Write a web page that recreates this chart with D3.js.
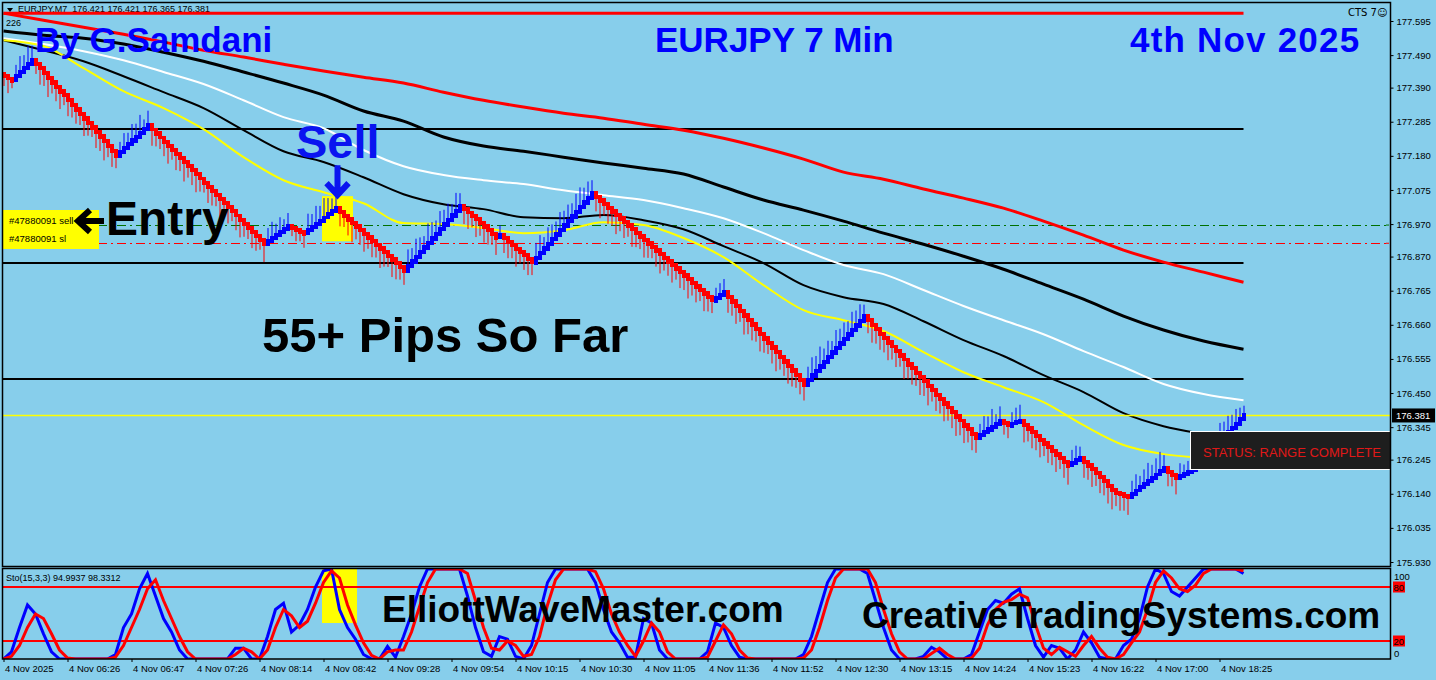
<!DOCTYPE html>
<html>
<head>
<meta charset="utf-8">
<script src="https://cdn.jsdelivr.net/npm/d3@7"></script>
<style>
  html, body { margin: 0; padding: 0; background: #87ceeb; }
  svg { display: block; }
  text { font-family: "Liberation Sans", Arial, sans-serif; }
</style>
</head>
<body>
<svg id="chart"></svg>
<script>
// ---- chart values ----
const priceTicks = [177.595, 177.490, 177.390, 177.285, 177.180, 177.075, 176.970, 176.870, 176.765,
  176.660, 176.555, 176.450, 176.345, 176.245, 176.140, 176.035, 175.930];

const timeTicks = [0, 16, 32, 48, 64, 80, 96, 112, 128, 144, 160, 176, 192, 208, 224, 240, 256, 272, 288, 304];
const timeLabels = ["4 Nov 2025", "4 Nov 06:26", "4 Nov 06:47", "4 Nov 07:26", "4 Nov 08:14",
  "4 Nov 08:42", "4 Nov 09:28", "4 Nov 09:54", "4 Nov 10:15", "4 Nov 10:30", "4 Nov 11:05",
  "4 Nov 11:36", "4 Nov 11:52", "4 Nov 12:30", "4 Nov 13:15", "4 Nov 14:24", "4 Nov 15:23",
  "4 Nov 16:22", "4 Nov 17:00", "4 Nov 18:25"];

const firstOpen = 177.432;
const closes = [
  177.425,177.418,177.413,177.425,177.437,177.450,177.462,177.474,177.462,177.449,
  177.435,177.421,177.407,177.393,177.379,177.366,177.352,177.338,177.324,177.310,
  177.296,177.282,177.268,177.254,177.240,177.226,177.211,177.196,177.182,177.193,
  177.205,177.216,177.228,177.239,177.251,177.262,177.274,177.261,177.249,177.236,
  177.224,177.211,177.198,177.186,177.173,177.161,177.148,177.135,177.123,177.110,
  177.097,177.085,177.072,177.060,177.047,177.034,177.022,177.009,176.996,176.984,
  176.971,176.959,176.946,176.933,176.921,176.908,176.918,176.927,176.936,176.946,
  176.955,176.964,176.958,176.952,176.947,176.942,176.952,176.961,176.971,176.981,
  176.990,177.000,177.009,177.019,177.008,176.996,176.985,176.974,176.963,176.951,
  176.940,176.929,176.918,176.907,176.895,176.884,176.873,176.862,176.850,176.839,
  176.828,176.842,176.856,176.870,176.884,176.898,176.912,176.926,176.941,176.955,
  176.969,176.983,176.997,177.011,177.025,177.015,177.005,176.995,176.985,176.974,
  176.963,176.952,176.941,176.930,176.936,176.926,176.915,176.905,176.894,176.884,
  176.874,176.863,176.853,176.867,176.881,176.895,176.910,176.924,176.938,176.952,
  176.966,176.980,176.994,177.008,177.023,177.037,177.051,177.065,177.054,177.043,
  177.032,177.021,177.010,176.999,176.988,176.977,176.966,176.955,176.944,176.933,
  176.922,176.911,176.900,176.889,176.878,176.867,176.856,176.845,176.834,176.823,
  176.812,176.801,176.790,176.779,176.768,176.757,176.746,176.736,176.744,176.753,
  176.761,176.747,176.733,176.718,176.704,176.690,176.676,176.662,176.648,176.633,
  176.619,176.605,176.591,176.577,176.562,176.548,176.534,176.520,176.506,176.491,
  176.477,176.491,176.505,176.519,176.533,176.547,176.561,176.575,176.589,176.603,
  176.617,176.631,176.645,176.659,176.673,176.687,176.674,176.660,176.647,176.633,
  176.620,176.606,176.593,176.580,176.566,176.553,176.539,176.526,176.512,176.499,
  176.486,176.472,176.459,176.445,176.432,176.418,176.405,176.392,176.378,176.365,
  176.351,176.338,176.324,176.311,176.320,176.329,176.338,176.346,176.355,176.364,
  176.357,176.351,176.356,176.360,176.364,176.353,176.341,176.330,176.319,176.307,
  176.296,176.285,176.273,176.262,176.251,176.239,176.228,176.235,176.243,176.250,
  176.239,176.228,176.216,176.204,176.192,176.180,176.165,176.152,176.142,176.138,
  176.133,176.130,176.140,176.150,176.160,176.170,176.180,176.189,176.199,176.209,
  176.219,176.208,176.198,176.188,176.194,176.200,176.206,176.215,176.226,176.238,
  176.250,176.263,176.276,176.290,176.303,176.317,176.330,176.343,176.356,176.370,
  176.381
];
// wick length beyond the body, in points (0.001)
const tails = [
  30,45,25,35,50,40,55,45,30,50,40,60,35,45,55,30,50,40,45,35,
  55,40,30,50,45,60,35,50,40,30,45,35,50,40,55,30,45,50,40,35,
  45,55,30,50,40,60,35,45,55,40,30,50,45,35,60,40,50,30,45,55,
  40,35,50,45,30,55,40,50,35,45,30,40,25,35,30,45,50,40,55,45,
  60,50,40,55,45,35,50,60,40,45,55,35,50,40,60,45,35,55,50,40,
  45,50,40,55,45,35,60,50,40,55,45,50,35,55,40,45,50,35,55,40,
  50,45,35,55,30,45,50,40,55,35,45,50,40,45,55,35,50,45,40,55,
  45,50,40,55,60,45,50,40,45,55,35,50,45,60,40,50,35,55,45,40,
  55,45,35,50,60,40,45,55,35,50,45,60,40,50,35,55,45,40,30,35,
  40,50,45,55,35,60,45,50,40,55,45,35,50,60,40,45,55,50,40,45,
  50,40,55,45,60,40,50,35,55,45,50,40,55,45,50,35,40,55,45,50,
  45,55,40,50,35,60,45,50,40,55,45,60,35,50,45,55,40,50,60,45,
  55,40,50,45,35,50,40,55,30,45,35,40,35,45,50,55,40,50,45,55,
  40,50,45,55,35,50,60,40,45,35,50,45,55,40,50,45,55,60,40,50,
  45,55,40,50,35,45,55,40,50,60,40,45,35,50,40,30,35,45,50,40,
  55,45,50,40,55,45,50,40,45,35,30
];

// moving averages, sampled every 10 bars
const maBars = [0,10,20,30,40,50,60,70,80,90,100,110,120,130,140,150,160,170,180,190,200,
  210,220,230,240,250,260,270,280,290,300,310];
const maRed = [177.619,177.597,177.576,177.554,177.530,177.505,177.484,177.462,177.441,177.422,
  177.404,177.376,177.351,177.330,177.311,177.296,177.277,177.259,177.234,177.204,177.170,
  177.130,177.108,177.078,177.050,177.019,176.979,176.936,176.890,176.853,176.822,176.791];
const maSlow = [177.564,177.551,177.542,177.524,177.499,177.471,177.438,177.404,177.367,177.318,
  177.287,177.238,177.210,177.194,177.176,177.158,177.142,177.124,177.084,177.044,177.013,
  176.979,176.942,176.908,176.871,176.831,176.785,176.739,176.687,176.644,176.610,176.585];
const maWhite = [177.542,177.524,177.502,177.474,177.438,177.401,177.351,177.299,177.265,177.198,
  177.148,177.121,177.105,177.093,177.074,177.059,177.044,177.019,176.988,176.942,176.890,
  176.844,176.816,176.767,176.718,176.674,176.631,176.579,176.530,176.478,176.447,176.428];
const maFast = [177.536,177.505,177.471,177.425,177.376,177.327,177.259,177.194,177.161,177.114,
  177.062,177.031,177.016,176.991,176.988,176.998,176.982,176.954,176.902,176.850,176.782,
  176.745,176.724,176.671,176.613,176.564,176.505,176.453,176.388,176.348,176.324,176.305];
const maYellow = [177.536,177.518,177.450,177.379,177.327,177.262,177.176,177.105,177.068,177.034,
  176.973,176.970,176.958,176.942,176.951,176.976,176.967,176.927,176.868,176.782,176.705,
  176.674,176.641,176.576,176.514,176.468,176.422,176.351,176.290,176.262,176.250,176.241];

// stochastic (15,3,3), sampled every 2 bars
const stochStep = 2;
const stochK = [
  0,8,35,60,50,28,8,0,0,0,
  0,0,0,0,5,35,50,78,95,70,
  45,30,10,0,0,0,0,0,0,12,
  12,0,0,25,55,62,30,38,55,80,
  98,100,55,35,22,5,0,0,14,2,
  25,50,80,100,100,100,100,100,70,35,
  8,3,25,22,3,0,15,50,85,100,
  100,100,100,100,85,55,30,18,2,2,
  45,40,10,0,0,0,0,0,8,40,
  35,15,2,0,0,0,0,0,0,0,
  5,25,55,85,100,100,100,100,95,65,
  35,10,0,0,0,3,13,8,0,0,
  0,5,30,55,65,62,72,78,45,15,
  2,15,12,0,10,30,18,2,0,0,
  15,22,45,80,100,95,75,70,80,90,
  100,100,100,100,100,95
];
const stochD = [
  0,3,15,35,50,45,28,10,1,0,
  0,0,0,0,2,15,35,55,78,88,
  65,45,25,8,0,0,0,0,0,5,
  12,8,0,10,35,55,48,35,42,62,
  85,98,90,60,38,18,4,0,8,10,
  10,30,58,85,100,100,100,100,95,65,
  35,12,10,20,15,3,5,25,60,88,
  100,100,100,100,97,78,50,30,15,3,
  20,40,30,8,0,0,0,0,2,20,
  38,28,10,1,0,0,0,0,0,0,
  1,10,35,65,90,100,100,100,100,85,
  55,28,8,0,0,0,6,12,5,0,
  0,1,12,38,55,63,66,72,68,38,
  12,5,13,8,3,15,25,12,2,0,
  5,18,30,55,85,98,90,78,75,82,
  95,100,100,100,100,98
];
const stochLevels = [80, 20];

// price levels
const topLine = 177.619;
const blackLevels = [177.262, 176.851, 176.493];
const entryPrice = 176.967;
const slPrice = 176.911;
const bidPrice = 176.381;
const lastBar = 310;
const sellZone = { from: 80, to: 87, hi: 177.056, lo: 176.917 };
const sellArrow = { bar: 83.5, top: 177.151, tip: 177.053 };

// ---- drawing ----
const W = 1436, H = 680;
const svg = d3.select('#chart').attr('width', W).attr('height', H);
svg.append('rect').attr('width', W).attr('height', H).attr('fill', '#87ceeb');

const x = d3.scaleLinear().domain([0, 346.5]).range([3.5, 1389.5]);
const y = d3.scaleLinear().domain([175.930, 177.595]).range([562, 21]);
const ys = d3.scaleLinear().domain([0, 100]).range([659, 569]);

const defs = svg.append('defs');
defs.append('clipPath').attr('id', 'clipMain')
  .append('rect').attr('x', 3).attr('y', 3).attr('width', 1387).attr('height', 563);
defs.append('clipPath').attr('id', 'clipSto')
  .append('rect').attr('x', 3).attr('y', 569).attr('width', 1387).attr('height', 90);

const main = svg.append('g').attr('clip-path', 'url(#clipMain)');

// black horizontal levels
main.selectAll('.lvl').data(blackLevels).join('line')
  .attr('class', 'lvl')
  .attr('x1', 3).attr('x2', x(lastBar))
  .attr('y1', d => Math.round(y(d))).attr('y2', d => Math.round(y(d)))
  .attr('stroke', '#000').attr('stroke-width', 2);

// order lines (dash-dot)
[[entryPrice, '#007000'], [slPrice, '#ff0000']].forEach(([p, c]) => {
  main.append('line')
    .attr('x1', 3).attr('x2', 1390).attr('y1', Math.round(y(p)) + 0.5).attr('y2', Math.round(y(p)) + 0.5)
    .attr('stroke', c).attr('stroke-width', 1).attr('stroke-dasharray', '9,4,2,4');
});

// sell highlight
main.append('rect')
  .attr('x', x(sellZone.from) - 1.5).attr('width', x(sellZone.to) - x(sellZone.from) + 3)
  .attr('y', y(sellZone.hi)).attr('height', y(sellZone.lo) - y(sellZone.hi))
  .attr('fill', '#ffff00');

// moving averages
const maLine = d3.line().x((d, i) => x(maBars[i])).y(d => y(d)).curve(d3.curveMonotoneX);
const maDefs = [
  [maRed, '#ff0000', 3],
  [maSlow, '#000000', 3],
  [maWhite, '#ffffff', 2],
  [maFast, '#000000', 2],
  [maYellow, '#ffff00', 2]
];
maDefs.forEach(([arr, c, w]) => {
  main.append('path').datum(arr).attr('d', maLine)
    .attr('fill', 'none').attr('stroke', c).attr('stroke-width', w);
});

// bid line
main.append('line')
  .attr('x1', 3).attr('x2', 1390).attr('y1', y(bidPrice)).attr('y2', y(bidPrice))
  .attr('stroke', '#ffff00').attr('stroke-width', 1.5);

// candles
const bars = closes.map((c, i) => ({ i, o: i ? closes[i - 1] : firstOpen, c, t: tails[i] / 1000 }));
const col = d => d.c >= d.o ? '#0000ff' : '#ff0000';
const cg = main.append('g');
cg.selectAll('.wick').data(bars).join('line')
  .attr('class', 'wick')
  .attr('x1', d => x(d.i) + 0.5).attr('x2', d => x(d.i) + 0.5)
  .attr('y1', d => y(d.c))
  .attr('y2', d => d.c >= d.o ? y(d.c + d.t) : y(d.c - d.t))
  .attr('stroke', col).attr('stroke-width', 1);
cg.selectAll('.body').data(bars).join('rect')
  .attr('class', 'body')
  .attr('x', d => x(d.i) - 1.5).attr('width', 4)
  .attr('y', d => Math.round(y(Math.max(d.o, d.c))) - 2)
  .attr('height', d => Math.round(Math.abs(y(d.o) - y(d.c))) + 4)
  .attr('fill', col);

// sell arrow
const ax = x(sellArrow.bar);
main.append('path')
  .attr('d', `M${ax},${y(sellArrow.top)} L${ax},${y(sellArrow.tip) - 3} M${ax - 11},${y(sellArrow.tip) - 14} L${ax},${y(sellArrow.tip) - 2} L${ax + 11},${y(sellArrow.tip) - 14}`)
  .attr('fill', 'none').attr('stroke', '#0a14f0').attr('stroke-width', 6);

// order labels
main.append('rect').attr('x', 3).attr('y', 210).attr('width', 96).attr('height', 39).attr('fill', '#ffff00');
main.append('text').attr('x', 9).attr('y', 224).attr('font-size', 9.5).text('#47880091 sell');
main.append('text').attr('x', 9).attr('y', 242).attr('font-size', 9.5).text('#47880091 sl');

// entry arrow + text
main.append('path')
  .attr('d', 'M104,221 L82,221 M90,210 L78,221 L90,232')
  .attr('fill', 'none').attr('stroke', '#000').attr('stroke-width', 6);
main.append('text').attr('x', 106).attr('y', 235)
  .attr('font-size', 48).attr('font-weight', 'bold').attr('fill', '#000').text('Entry');

main.append('text').attr('x', 296).attr('y', 158)
  .attr('font-size', 47).attr('font-weight', 'bold').attr('fill', '#0a14f0').text('Sell');

main.append('text').attr('x', 262).attr('y', 352)
  .attr('font-size', 49).attr('font-weight', 'bold').attr('fill', '#000').text('55+ Pips So Far');

// titles
[['By G.Samdani', 35, 0], ['EURJPY 7 Min', 655, 0], ['4th Nov 2025', 1130, 1.2]].forEach(([t, px, ls]) => {
  main.append('text').attr('x', px).attr('y', 52)
    .attr('font-size', 35).attr('font-weight', 'bold').attr('fill', '#0000ff')
    .attr('letter-spacing', ls).text(t);
});

// status box
main.append('rect').attr('x', 1190.5).attr('y', 431.5).attr('width', 205).attr('height', 38)
  .attr('fill', '#1e1e1e').attr('stroke', '#fff').attr('stroke-width', 1);
main.append('text').attr('x', 1203).attr('y', 457).attr('font-size', 13)
  .attr('fill', '#e01818').text('STATUS: RANGE COMPLETE');

// header
main.append('path').attr('d', 'M7,8 L13,8 L10,12 Z').attr('fill', '#000');
main.append('text').attr('x', 18).attr('y', 12).attr('font-size', 9).style('white-space', 'pre')
  .text('EURJPY,M7  176.421 176.421 176.365 176.381');
// top red level, drawn over the header
main.append('line')
  .attr('x1', x(0)).attr('x2', x(lastBar)).attr('y1', y(topLine)).attr('y2', y(topLine))
  .attr('stroke', '#ff0000').attr('stroke-width', 3);
main.append('text').attr('x', 6).attr('y', 26).attr('font-size', 9).text('226');
main.append('text').attr('x', 1348).attr('y', 16).attr('font-size', 10)
  .style('font-family', '"DejaVu Sans", sans-serif').text('CTS 7\u263A');

// ---- stochastic panel ----
const sto = svg.append('g').attr('clip-path', 'url(#clipSto)');
sto.append('rect')
  .attr('x', x(sellZone.from) - 1.5).attr('width', x(sellZone.to + 1) - x(sellZone.from) + 3)
  .attr('y', ys(100)).attr('height', ys(40) - ys(100)).attr('fill', '#ffff00');
sto.selectAll('.slvl').data(stochLevels).join('line')
  .attr('class', 'slvl')
  .attr('x1', 3).attr('x2', 1390).attr('y1', d => ys(d)).attr('y2', d => ys(d))
  .attr('stroke', '#ff0000').attr('stroke-width', 2);
const stoLine = d3.line().x((d, i) => x(i * stochStep)).y(d => ys(d));
sto.append('path').datum(stochK).attr('d', stoLine)
  .attr('fill', 'none').attr('stroke', '#0000ff').attr('stroke-width', 3);
sto.append('path').datum(stochD).attr('d', stoLine)
  .attr('fill', 'none').attr('stroke', '#ff0000').attr('stroke-width', 3);
sto.append('text').attr('x', 6).attr('y', 581).attr('font-size', 9)
  .text('Sto(15,3,3) 94.9937 98.3312');

// watermark texts
svg.append('text').attr('x', 382).attr('y', 622)
  .attr('font-size', 37).attr('font-weight', 'bold').attr('fill', '#000').text('ElliottWaveMaster.com');
svg.append('text').attr('x', 862).attr('y', 628)
  .attr('font-size', 37).attr('font-weight', 'bold').attr('fill', '#000').text('CreativeTradingSystems.com');

// ---- frames ----
svg.append('rect').attr('x', 2.5).attr('y', 2.5).attr('width', 1388).attr('height', 564)
  .attr('fill', 'none').attr('stroke', '#000').attr('stroke-width', 1.5);
svg.append('rect').attr('x', 2.5).attr('y', 568.5).attr('width', 1388).attr('height', 90.5)
  .attr('fill', 'none').attr('stroke', '#000').attr('stroke-width', 1.5);

// ---- axes ----
const yAxis = d3.axisRight(y).tickValues(priceTicks).tickSize(3).tickSizeOuter(0)
  .tickFormat(d3.format('.3f'));
const yAxisG = svg.append('g').attr('transform', 'translate(1390.5,0)').call(yAxis);
yAxisG.select('.domain').remove();
yAxisG.selectAll('text').attr('font-size', 9.5).attr('fill', '#000')
  .style('font-family', '"Liberation Sans", Arial, sans-serif');

// bid price tag
svg.append('rect').attr('x', 1392).attr('y', y(bidPrice) - 7).attr('width', 43).attr('height', 14).attr('fill', '#000');
svg.append('text').attr('x', 1396).attr('y', y(bidPrice) + 4).attr('font-size', 9.5).attr('fill', '#fff')
  .text(d3.format('.3f')(bidPrice));

// order markers on the axis
[[entryPrice, '#007000'], [slPrice, '#ff0000']].forEach(([p, c]) => {
  svg.append('line').attr('x1', 1386).attr('x2', 1389).attr('y1', y(p)).attr('y2', y(p))
    .attr('stroke', c).attr('stroke-width', 1);
});

// stochastic scale labels
svg.append('text').attr('x', 1394).attr('y', 580).attr('font-size', 9.5).text('100');
svg.append('text').attr('x', 1394).attr('y', 657).attr('font-size', 9.5).text('0');
stochLevels.forEach(v => {
  svg.append('rect').attr('x', 1393).attr('y', ys(v) - 5.5).attr('width', 12).attr('height', 11).attr('fill', '#ff0000');
  svg.append('text').attr('x', 1393.5).attr('y', ys(v) + 4).attr('font-size', 9.5).attr('fill', '#000').text(String(v));
});

const xAxis = d3.axisBottom(x).tickValues(timeTicks).tickSize(3).tickSizeOuter(0)
  .tickFormat((d, i) => timeLabels[i]);
const xAxisG = svg.append('g').attr('transform', 'translate(0,659)').call(xAxis);
xAxisG.select('.domain').remove();
xAxisG.selectAll('text')
  .attr('text-anchor', 'start').attr('x', 1).attr('y', 6)
  .attr('font-size', 9.5).attr('fill', '#000')
  .style('font-family', '"Liberation Sans", Arial, sans-serif');
</script>
</body>
</html>
